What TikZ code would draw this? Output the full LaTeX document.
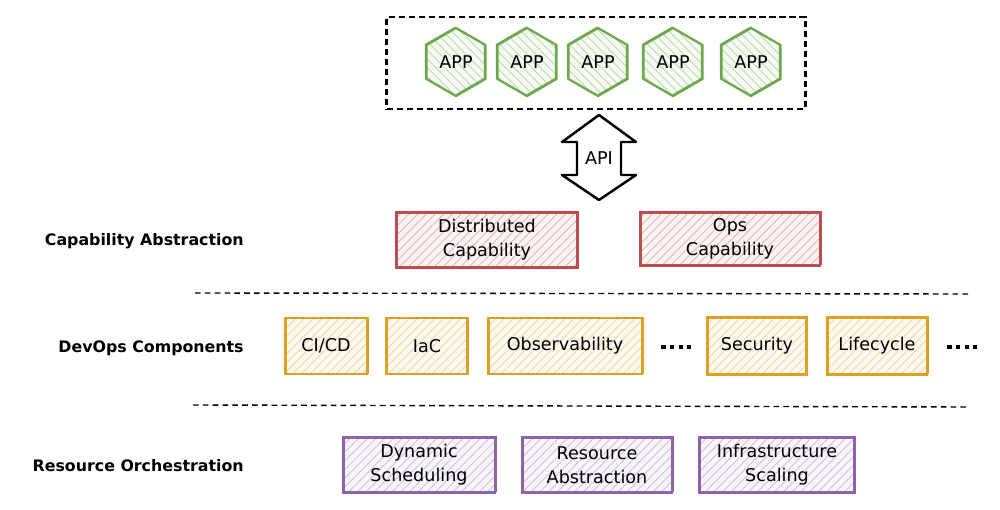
\documentclass[tikz,border=0pt]{standalone}
\usepackage{fontspec}
\setmainfont{DejaVu Sans}
\usetikzlibrary{shapes.geometric,patterns.meta}
\definecolor{appg}{RGB}{110,168,76}
\definecolor{capred}{RGB}{190,78,78}
\definecolor{devy}{RGB}{222,160,32}
\definecolor{respu}{RGB}{140,100,172}
\tikzset{
  txt/.style={font=\fontsize{10}{13.6}\selectfont, align=center, text=black},
  hatchbox/.style={draw=#1, line width=1.3pt, inner sep=0pt,
    preaction={fill=#1!6},
    preaction={pattern={Lines[angle=45,distance=3.5pt,line width=0.5pt]}, pattern color=#1!42},
    postaction={draw=#1, line width=0.6pt, transform canvas={xshift=0.6pt, yshift=0.5pt}},
    txt},
  hexapp/.style={regular polygon, regular polygon sides=6, shape border rotate=90,
    minimum size=1.36cm, inner sep=0pt, draw=appg, line width=1.3pt,
    preaction={fill=appg!6},
    preaction={pattern={Lines[angle=-45,distance=3.5pt,line width=0.5pt]}, pattern color=appg!45},
    postaction={draw=appg, line width=0.6pt, transform canvas={xshift=-0.6pt, yshift=0.4pt}},
    txt},
  layer/.style={anchor=east, inner sep=0pt, font=\fontsize{9}{11}\selectfont\bfseries},
  sep/.style={draw=black, line width=0.8pt, dash pattern=on 3.2pt off 2.4pt},
}
\begin{document}
\begin{tikzpicture}[x=0.02cm,y=-0.02cm]
\useasboundingbox (0,0) rectangle (1000,510);

% top apps container
\node[draw=black, line width=1.4pt, dash pattern=on 3.5pt off 2.2pt,
      minimum width=8.38cm, minimum height=1.84cm, inner sep=0pt] (apps) at (596,63) {};
\node[hexapp] (app1) at (456,62) {APP};
\node[hexapp] (app2) at (527,62) {APP};
\node[hexapp] (app3) at (598,62) {APP};
\node[hexapp] (app4) at (673,62) {APP};
\node[hexapp] (app5) at (751,62) {APP};

% API double arrow
\draw[line width=1.4pt, fill=white, line join=round]
  (599,115) -- (636,142) -- (621,142) -- (621,175) -- (636,175) -- (599,200)
  -- (562,175) -- (577,175) -- (577,142) -- (562,142) -- cycle;
\node[txt] (api) at (599,158) {API};

% capability abstraction
\node[layer] (lcap) at (244,241) {Capability Abstraction};
\node[hatchbox=capred, minimum width=3.62cm, minimum height=1.1cm] (dist) at (487,240) {Distributed\\Capability};
\node[hatchbox=capred, minimum width=3.6cm, minimum height=1.06cm] (ops) at (730,239) {Ops\\Capability};

\coordinate (s1a) at (195,293);
\coordinate (s1b) at (970,294);
\draw[sep] (s1a) -- (s1b);

% devops components
\node[layer] (ldev) at (244,348) {DevOps Components};
\node[hatchbox=devy, minimum width=1.64cm, minimum height=1.12cm] (cicd) at (326,346) {CI/CD};
\node[hatchbox=devy, minimum width=1.62cm, minimum height=1.12cm] (iac) at (427,346) {IaC};
\node[hatchbox=devy, minimum width=3.08cm, minimum height=1.12cm] (obs) at (565,346) {Observability};
\node[hatchbox=devy, minimum width=1.98cm, minimum height=1.14cm] (sec) at (757,346) {Security};
\node[hatchbox=devy, minimum width=2.0cm, minimum height=1.14cm] (life) at (877,346) {Lifecycle};
\draw[line width=2.6pt, dash pattern=on 2.6pt off 2.4pt] (661,347) -- (691,347);
\draw[line width=2.6pt, dash pattern=on 2.6pt off 2.4pt] (947,347) -- (977,347);

\coordinate (s2a) at (193,405);
\coordinate (s2b) at (968,407);
\draw[sep] (s2a) -- (s2b);

% resource orchestration
\node[layer] (lres) at (244,466) {Resource Orchestration};
\node[hatchbox=respu, minimum width=3.04cm, minimum height=1.1cm] (dyn) at (419,465) {Dynamic\\Scheduling};
\node[hatchbox=respu, minimum width=3.0cm, minimum height=1.1cm] (res) at (597,465) {Resource\\Abstraction};
\node[hatchbox=respu, minimum width=3.1cm, minimum height=1.1cm] (inf) at (777,465) {Infrastructure\\Scaling};
\end{tikzpicture}
\end{document}
